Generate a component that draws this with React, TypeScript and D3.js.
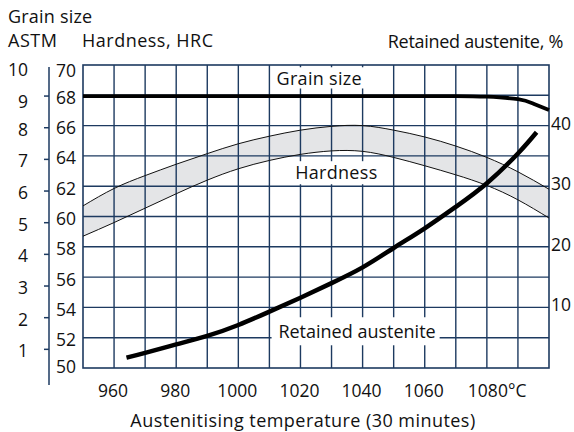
import React from "react";
import * as d3 from "d3";

const temps = [950, 960, 970, 980, 990, 1000, 1010, 1020, 1030, 1040, 1050, 1060, 1070, 1080, 1090, 1100];
const hardnessUpper = [60.7, 61.85, 62.7, 63.45, 64.15, 64.8, 65.3, 65.7, 65.95, 66.0, 65.7, 65.25, 64.65, 63.9, 62.95, 61.8];
const hardnessLower = [58.7, 59.6, 60.55, 61.5, 62.4, 63.15, 63.7, 64.1, 64.33, 64.3, 63.9, 63.35, 62.75, 62.05, 61.1, 59.9];

const raTemps = [964, 970, 980, 990, 1000, 1010, 1020, 1030, 1040, 1050, 1060, 1070, 1080, 1090, 1096];
const raValues = [1.7, 2.5, 3.9, 5.3, 7.1, 9.3, 11.6, 14.0, 16.6, 19.8, 23.05, 26.6, 30.5, 35.4, 38.9];

const grainTemps = [950, 1000, 1050, 1070, 1080, 1090, 1095, 1100];
const grainValues = [9, 9, 9, 9, 8.98, 8.9, 8.76, 8.56];

const xTicks = [960, 980, 1000, 1020, 1040, 1060, 1080];
const hrcTicks = [50, 52, 54, 56, 58, 60, 62, 64, 66, 68, 70];
const grainTicks = [1, 2, 3, 4, 5, 6, 7, 8, 9, 10];
const raTicks = [10, 20, 30, 40];

const NAVY = "#1d3a60";
const FONT = "'Open Sans', sans-serif";

export default function App() {
  const W = 574, H = 432;
  const left = 83, right = 549, top = 65, bottom = 368;
  const x = d3.scaleLinear().domain([950, 1100]).range([left, right]);
  const yH = d3.scaleLinear().domain([50, 70]).range([bottom, top]);
  const yG = d3.scaleLinear().domain([0, 10]).range([381, 64.4]);
  const yR = d3.scaleLinear().domain([0, 50]).range([bottom, top]);

  const curve = d3.curveNatural;
  const upperPts = temps.map((t, i) => [x(t), yH(hardnessUpper[i])] as [number, number]);
  const lowerPts = temps.map((t, i) => [x(t), yH(hardnessLower[i])] as [number, number]);
  const lineGen = d3.line().curve(curve);
  const area = d3.area<number>()
    .x((_, i) => x(temps[i]))
    .y0((_, i) => yH(hardnessLower[i]))
    .y1((_, i) => yH(hardnessUpper[i]))
    .curve(curve);

  const raPts = raTemps.map((t, i) => [x(t), yR(raValues[i])] as [number, number]);
  const grainPts = grainTemps.map((t, i) => [x(t), yG(grainValues[i])] as [number, number]);

  const vGrid = d3.range(960, 1100, 10);
  const hGrid = d3.range(52, 70, 2);

  const num = { fontFamily: FONT, fontSize: 17.5, fill: "#111" } as const;
  const txt = { fontFamily: FONT, fontSize: 18, fill: "#111" } as const;

  return (
    <svg width={W} height={H} style={{ position: "absolute", left: 0, top: 0, background: "#fff" }}>
      <path d={area(temps as any) || ""} fill="#e4e5e7" />
      {vGrid.map((t) => (
        <line key={"v" + t} x1={x(t)} x2={x(t)} y1={top} y2={bottom} stroke={NAVY} strokeWidth={1.4} />
      ))}
      {hGrid.map((h) => (
        <line key={"h" + h} x1={left} x2={right} y1={yH(h)} y2={yH(h)} stroke={NAVY} strokeWidth={1.4} />
      ))}
      <rect x={left} y={top} width={right - left} height={bottom - top} fill="none" stroke={NAVY} strokeWidth={1.6} />
      <path d={lineGen(upperPts) || ""} fill="none" stroke="#111" strokeWidth={1} />
      <path d={lineGen(lowerPts) || ""} fill="none" stroke="#111" strokeWidth={1} />

      {/* labels with white background */}
      <rect x={x(1010.8)} y={yH(69.85)} width={x(1041) - x(1010.8)} height={yH(68.45) - yH(69.85)} fill="#fff" />
      <text x={x(1012.3)} y={yH(68.7)} letterSpacing={0.3} {...txt}>Grain size</text>
      <rect x={x(1017.1)} y={yH(63.65)} width={x(1044.9) - x(1017.1)} height={yH(62.13) - yH(63.65)} fill="#fff" />
      <text x={x(1018.3)} y={yH(62.45)} letterSpacing={0.3} {...txt}>Hardness</text>
      <rect x={x(1010.7)} y={yH(53.35)} width={x(1064.8) - x(1010.7)} height={yH(51.5) - yH(53.35)} fill="#fff" />
      <text x={x(1012.9)} y={yH(52.0)} {...txt}>Retained austenite</text>

      <path d={lineGen(grainPts) || ""} fill="none" stroke="#000" strokeWidth={3.8} />
      <path d={lineGen(raPts) || ""} fill="none" stroke="#000" strokeWidth={4.5} strokeLinecap="butt" />

      {/* grain size axis */}
      <line x1={49} x2={49} y1={top + 2} y2={385} stroke={NAVY} strokeWidth={1.5} />
      {grainTicks.map((g) => (
        <g key={"g" + g}>
          {g < 10 && <line x1={44} x2={49} y1={yG(g)} y2={yG(g)} stroke={NAVY} strokeWidth={1.5} />}
          <text x={28} y={yG(g) + (g >= 9 ? 12 : 8)} textAnchor="end" {...num}>{g}</text>
        </g>
      ))}
      {/* HRC axis labels */}
      {hrcTicks.map((h) => (
        <text key={"hl" + h} x={76} y={yH(h) + (h === 70 ? 12 : h === 50 ? 5 : 8.5)} textAnchor="end" {...num}>{h}</text>
      ))}
      {/* retained austenite labels */}
      {raTicks.map((r) => (
        <text key={"rl" + r} x={551} y={yR(r) + 4} textAnchor="start" {...num}>{r}</text>
      ))}
      {/* x tick labels */}
      {xTicks.map((t) => (
        t === 1080 ? (
          <text key={"xl" + t} x={x(t) - 19} y={396.5} textAnchor="start" {...num}>1080°C</text>
        ) : (
          <text key={"xl" + t} x={x(t) - 1} y={396.5} textAnchor="middle" {...num}>{t}</text>
        )
      ))}

      <text x={8} y={23} letterSpacing={0.2} {...txt}>Grain size</text>
      <text x={8} y={47} letterSpacing={0.5} {...txt}>ASTM</text>
      <text x={82} y={47} letterSpacing={0.5} {...txt}>Hardness, HRC</text>
      <text x={563} y={47.5} textAnchor="end" letterSpacing={-0.3} {...txt}>Retained austenite, %</text>
      <text x={303} y={427} textAnchor="middle" letterSpacing={0.45} {...txt}>Austenitising temperature (30 minutes)</text>
    </svg>
  );
}
